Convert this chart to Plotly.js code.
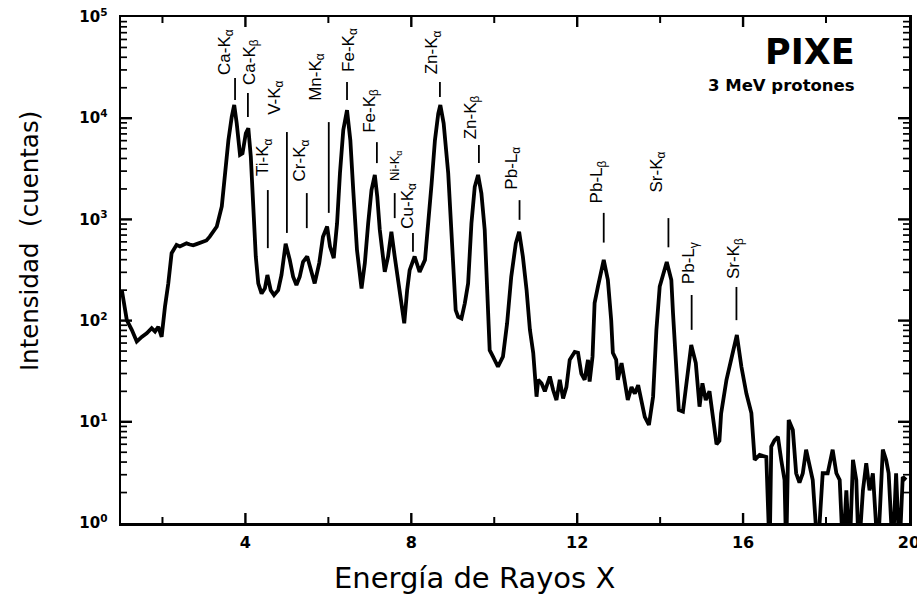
<!DOCTYPE html>
<html>
<head>
<meta charset="utf-8">
<script src="https://cdn.plot.ly/plotly-3.0.1.min.js"></script>
<style>html,body{margin:0;padding:0;background:#fff;}#chart{width:917px;height:594px;}</style>
</head>
<body>
<div id="chart"></div>
<script>
// X-ray energy (keV) and counts of the PIXE spectrum
const energy = [1.02,1.14,1.26,1.38,1.50,1.62,1.74,1.82,1.90,1.98,2.06,2.14,2.22,2.34,2.42,2.50,2.58,2.66,2.74,2.82,2.90,2.98,3.06,3.14,3.31,3.43,3.51,3.59,3.67,3.73,3.79,3.87,3.93,4.01,4.07,4.13,4.19,4.25,4.31,4.39,4.47,4.53,4.61,4.69,4.79,4.87,4.97,5.07,5.15,5.23,5.31,5.39,5.49,5.60,5.67,5.78,5.87,5.97,6.04,6.13,6.21,6.28,6.36,6.45,6.53,6.60,6.69,6.80,6.88,6.96,7.04,7.12,7.18,7.24,7.36,7.44,7.52,7.60,7.71,7.83,7.90,7.96,8.08,8.20,8.33,8.40,8.49,8.57,8.65,8.70,8.78,8.89,8.95,9.01,9.07,9.13,9.21,9.29,9.37,9.45,9.53,9.61,9.69,9.77,9.84,9.89,9.97,10.09,10.21,10.31,10.41,10.52,10.60,10.69,10.78,10.86,10.94,10.98,11.02,11.06,11.14,11.22,11.34,11.42,11.50,11.58,11.66,11.74,11.82,11.94,12.02,12.10,12.18,12.26,12.30,12.37,12.42,12.50,12.64,12.74,12.82,12.86,12.94,12.98,13.07,13.14,13.22,13.31,13.39,13.47,13.55,13.63,13.73,13.83,13.91,13.99,14.16,14.27,14.31,14.39,14.45,14.55,14.65,14.75,14.86,14.95,15.02,15.10,15.19,15.29,15.36,15.43,15.47,15.60,15.72,15.85,15.96,16.08,16.20,16.24,16.28,16.40,16.56,16.64,16.68,16.76,16.84,16.92,17.00,17.04,17.10,17.20,17.28,17.36,17.44,17.52,17.60,17.68,17.80,17.92,18.04,18.16,18.25,18.33,18.41,18.49,18.57,18.65,18.73,18.79,18.89,18.97,19.05,19.13,19.25,19.37,19.45,19.51,19.61,19.69,19.77,19.85,19.93];
const counts = [200,101,81,62,69,75,84,78,87,69,137,233,463,560,540,555,580,565,555,570,585,600,620,675,850,1340,2870,6060,10300,13500,8900,4350,4500,7100,7960,4170,1340,430,233,185,208,282,200,179,200,282,574,398,272,225,272,380,430,282,233,370,675,850,540,415,915,2870,7650,12000,6060,1950,500,208,370,915,1950,2750,1670,790,303,430,755,430,217,94,200,315,430,303,398,790,2270,6060,11100,13500,8900,2870,915,292,127,109,105,148,233,915,2100,2750,1810,790,200,51,44,35,44,94,272,580,755,430,200,81,48,26,17.7,26,24,20,28,20.6,16.4,26,17,22,41,49,48,30,26,41,25,44,149,217,398,252,101,48,41,26,38,26,16.4,22,19,23,16.4,11.2,9.3,17.7,81,217,380,252,119,38,13.1,12.6,26,57.5,38,14.1,24,16.4,20,9.7,6,6.5,12,26,44,72,35,19,12.2,6.2,4.2,4.7,4.5,0.5,5.7,6.6,7.1,4.2,2.66,0.5,10.4,8.3,3.1,2.5,3.1,5.3,3.9,2.66,0.5,3.1,3.1,5.3,3.1,2.66,0.5,2.1,0.5,4.2,2.66,0.5,2.1,3.9,2.1,3.1,0.5,5.3,4.2,3.1,0.5,3.1,0.5,2.85,2.66];

// Emission line labels
const lineNames = ['Ca-K<sub>α</sub>','Ca-K<sub>β</sub>','Ti-K<sub>α</sub>','V-K<sub>α</sub>','Cr-K<sub>α</sub>','Mn-K<sub>α</sub>','Fe-K<sub>α</sub>','Fe-K<sub>β</sub>','Ni-K<sub>α</sub>','Cu-K<sub>α</sub>','Zn-K<sub>α</sub>','Zn-K<sub>β</sub>','Pb-L<sub>α</sub>','Pb-L<sub>β</sub>','Sr-K<sub>α</sub>','Pb-L<sub>γ</sub>','Sr-K<sub>β</sub>'];
const lineEnergy = [3.75,4.06,4.54,5.00,5.48,6.01,6.45,7.17,7.60,8.04,8.69,9.63,10.61,12.64,14.20,14.76,15.84];
const lineLow  = [15100,10300,520,735,820,1160,15100,3600,1030,480,16200,3600,990,590,530,81,101];
const lineHigh = [24900,17700,1950,7300,1820,9150,22800,5800,1820,735,22800,5430,1550,1160,1030,179,215];
const labelEnergy = [3.53,4.12,4.46,4.72,5.35,5.71,6.52,7.01,7.63,7.94,8.53,9.45,10.43,12.51,13.95,14.71,15.82];
const labelCounts = [45100,36300,4190,16000,3860,25800,47200,11900,3450,1360,45100,10300,3180,2340,2910,366,411];
const labelSizes = [17,17,17,17,17,17,17,17,13,17,17,17,17,17,17,17,17];

const xRange = [1, 20.001];
const yRange = [0, 5];
const yTickVals = [1,10,100,1000,10000,100000];
const yTickText = ['10<sup>0</sup>','10<sup>1</sup>','10<sup>2</sup>','10<sup>3</sup>','10<sup>4</sup>','10<sup>5</sup>'];
const xTickVals = [4,8,12,16,20];
const xTickText = ['4','8','12','16','20'];
const xMinorVals = [2,6,10,14,18];

const W = 917, H = 594, M = {l: 121, r: 8, t: 17, b: 71};
const pxPerX = (W - M.l - M.r) / (xRange[1] - xRange[0]);
const pxPerDec = (H - M.t - M.b) / (yRange[1] - yRange[0]);

const yMinor = [];
for (let d = 0; d < 5; d++) for (let k = 2; k <= 9; k++) yMinor.push(k * Math.pow(10, d));

const lx = [], ly = [];
lineEnergy.forEach((e, i) => { lx.push(e, e, null); ly.push(lineLow[i], lineHigh[i], null); });

// inside tick marks on all four sides, built from the tick value arrays
function xTicks(vals, len) {
  const tx = [], ty = [];
  const yb0 = Math.pow(10, yRange[0]), yb1 = Math.pow(10, yRange[0] + len / pxPerDec);
  const yt0 = Math.pow(10, yRange[1]), yt1 = Math.pow(10, yRange[1] - len / pxPerDec);
  vals.forEach(v => { tx.push(v, v, null, v, v, null); ty.push(yb0, yb1, null, yt0, yt1, null); });
  return {tx, ty};
}
function yTicks(vals, len) {
  const tx = [], ty = [];
  const xl1 = xRange[0] + len / pxPerX, xr1 = xRange[1] - len / pxPerX;
  vals.forEach(v => { tx.push(xRange[0], xl1, null, xRange[1], xr1, null); ty.push(v, v, null, v, v, null); });
  return {tx, ty};
}
const xMaj = xTicks(xTickVals.slice(0, -1), 10), xMin = xTicks(xMinorVals, 6);
const yMaj = yTicks(yTickVals.slice(1, -1), 11), yMin = yTicks(yMinor, 6);

const traces = [
  {x: energy, y: counts, type: 'scatter', mode: 'lines', line: {color: '#000', width: 3.8}},
  {x: lx, y: ly, type: 'scatter', mode: 'lines', line: {color: '#000', width: 1.8}},
  {x: xMaj.tx, y: xMaj.ty, type: 'scatter', mode: 'lines', line: {color: '#000', width: 2.4}, cliponaxis: false},
  {x: xMin.tx, y: xMin.ty, type: 'scatter', mode: 'lines', line: {color: '#000', width: 2}, cliponaxis: false},
  {x: yMaj.tx, y: yMaj.ty, type: 'scatter', mode: 'lines', line: {color: '#000', width: 2.4}, cliponaxis: false},
  {x: yMin.tx, y: yMin.ty, type: 'scatter', mode: 'lines', line: {color: '#000', width: 1.7}, cliponaxis: false}
];

const annotations = lineNames.map((t, i) => ({
  text: t, x: labelEnergy[i], y: Math.log10(labelCounts[i]), xref: 'x', yref: 'y',
  textangle: -90, showarrow: false, xanchor: 'center', yanchor: 'middle',
  font: {family: 'Liberation Sans, Arial, sans-serif', size: labelSizes[i], color: '#000'}
}));
annotations.push(
  {text: 'PIXE', xref: 'paper', yref: 'paper', x: 0.934, y: 0.93, xanchor: 'right', yanchor: 'middle', showarrow: false,
   font: {family: 'DejaVu Sans', size: 35, weight: 'bold', color: '#000'}},
  {text: '3 MeV protones', xref: 'paper', yref: 'paper', x: 0.934, y: 0.865, xanchor: 'right', yanchor: 'middle', showarrow: false,
   font: {family: 'DejaVu Sans', size: 16.5, weight: 'bold', color: '#000'}},
  {text: 'Energía de Rayos X', xref: 'paper', yref: 'paper', x: 0.449, y: -0.108, xanchor: 'center', yanchor: 'middle', showarrow: false,
   font: {family: 'DejaVu Sans', size: 29, color: '#000'}},
  {text: 'Intensidad\u00a0\u00a0(cuentas)', xref: 'paper', yref: 'paper', x: -0.1168, y: 0.557, xanchor: 'center', yanchor: 'middle',
   textangle: -90, showarrow: false, font: {family: 'DejaVu Sans', size: 24.5, color: '#000'}}
);

const tickFontX = {family: 'DejaVu Sans', size: 16, weight: 'bold', color: '#000'};
const tickFontY = {family: 'DejaVu Sans', size: 15, weight: 'bold', color: '#000'};
const layout = {
  width: W, height: H,
  margin: M,
  paper_bgcolor: '#fff', plot_bgcolor: '#fff', showlegend: false,
  xaxis: {
    range: xRange, tickmode: 'array', tickvals: xTickVals, ticktext: xTickText,
    ticklabeloverflow: 'allow', ticklabelstandoff: 3,
    showline: true, linewidth: 2.5, linecolor: '#000', mirror: true, showgrid: false, zeroline: false,
    tickfont: tickFontX
  },
  yaxis: {
    type: 'log', range: yRange, tickmode: 'array', tickvals: yTickVals, ticktext: yTickText,
    ticklabeloverflow: 'allow', ticklabelstandoff: 8,
    showline: true, linewidth: 2.5, linecolor: '#000', mirror: true, showgrid: false, zeroline: false,
    tickfont: tickFontY
  },
  annotations: annotations
};

Plotly.newPlot('chart', traces, layout, {displayModeBar: false, staticPlot: true});
</script>
</body>
</html>
